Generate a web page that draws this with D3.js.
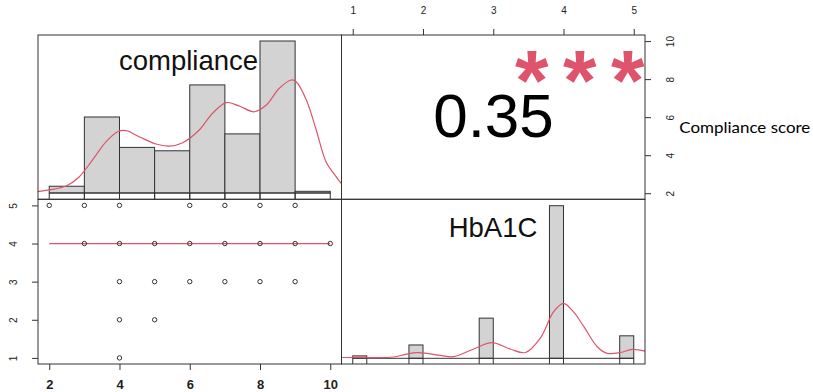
<!DOCTYPE html>
<html>
<head>
<meta charset="utf-8">
<script src="https://cdn.jsdelivr.net/npm/d3@7"></script>
<style>
	body { margin: 0; background: #fff; }
	svg { display: block; }
	text { font-family: "Liberation Sans", Arial, sans-serif; }
</style>
</head>
<body>
<div id="chart"></div>
<script>
// compliance histogram (diagonal, top left)
const complianceBreaks = [2, 3, 4, 5, 6, 7, 8, 9, 10]
const complianceCounts = [4, 45, 27, 25, 64, 35, 90, 1]
const complianceDensityX = [1.67, 2.0, 2.48, 2.85, 3.23, 3.62, 3.95, 4.19, 4.56, 5.04, 5.42, 5.8, 6.27, 6.65, 7.04, 7.41, 7.84, 8.18, 8.55, 8.89, 9.03, 9.32, 9.6, 9.89, 10.17, 10.31]
const complianceDensityY = [0.8, 1.8, 4.1, 9.5, 19.5, 30.4, 36.3, 36.9, 33.3, 29.0, 27.8, 29.8, 37.3, 47.2, 53.5, 51.5, 48.1, 52.1, 62, 66.9, 65.9, 55.1, 37.3, 18, 9.6, 5.7]

// HbA1C histogram (diagonal, bottom right)
const hba1cBinLo = [1.0, 1.8, 2.8, 3.8, 4.8]
const hba1cBinHi = [1.2, 2.0, 3.0, 4.0, 5.0]
const hba1cCounts = [1.5, 8.3, 25, 95, 14]
const hba1cDensityX = [0.84, 1.29, 1.58, 1.75, 1.91, 2.15, 2.43, 2.72, 2.98, 3.24, 3.46, 3.67, 3.86, 4.0, 4.14, 4.29, 4.48, 4.62, 4.81, 4.98, 5.16]
const hba1cDensityY = [0.5, 0.45, 0.8, 2.4, 3.5, 2.5, 1.0, 5.8, 9.7, 5.8, 3.6, 12.5, 29.0, 34.2, 29.0, 19.7, 7.2, 3.1, 3.6, 5.5, 4.5]

// scatter (bottom left): compliance vs HbA1C
const scatterCompliance = [2, 3, 4, 6, 7, 8, 9, 3, 4, 5, 6, 7, 8, 9, 10, 4, 5, 6, 7, 8, 9, 4, 5, 4]
const scatterHbA1C = [5, 5, 5, 5, 5, 5, 5, 4, 4, 4, 4, 4, 4, 4, 4, 3, 3, 3, 3, 3, 3, 2, 2, 1]
const fitCompliance = [2, 10]
const fitHbA1C = [4, 4]

// correlation (top right)
const corrValue = "0.35"
const corrStars = "***"

const complianceTicks = [2, 4, 6, 8, 10]
const complianceRightTicks = [2, 4, 6, 8, 10]
const hba1cTicks = [1, 2, 3, 4, 5]
const sideLabel = "Compliance score"

const width = 813
const height = 392
const panelLeft = 38
const panelMidX = 341.5
const panelRight = 645
const panelTop = 35
const panelMidY = 199.3
const panelBottom = 364
const red = "#DF536B"
const ink = "#333"
const intFormat = d3.format("d")

const xC = d3.scaleLinear().domain([1.68, 10.32]).range([panelLeft, panelMidX])
const xH = d3.scaleLinear().domain([0.84, 5.16]).range([panelMidX, panelRight])
const yC = d3.scaleLinear().domain([1.68, 10.32]).range([panelMidY, panelTop])
const yH = d3.scaleLinear().domain([0.84, 5.16]).range([panelBottom, panelMidY])
const yCCount = d3.scaleLinear().domain([0, 90]).range([193, 41])
const yHCount = d3.scaleLinear().domain([0, 95]).range([358.3, 205.7])

const svg = d3.select("#chart").append("svg").attr("width", width).attr("height", height)

// histogram helper: gray bars, baseline, edges running down to the panel bottom
const drawHist = (lo, hi, counts, x, y, edgeBottom) => {
	const g = svg.append("g")
	const base = y(0)
	g.selectAll("rect")
		.data(counts)
		.enter()
		.append("rect")
		.attr("x", (d, i) => x(lo[i]))
		.attr("y", d => y(d))
		.attr("width", (d, i) => x(hi[i]) - x(lo[i]))
		.attr("height", d => base - y(d))
		.attr("fill", "#d3d3d3")
		.attr("stroke", ink)
		.attr("stroke-width", 1)
	g.selectAll("line.edge")
		.data(counts.flatMap((d, i) => [lo[i], hi[i]]))
		.enter()
		.append("line")
		.attr("class", "edge")
		.attr("x1", d => x(d))
		.attr("x2", d => x(d))
		.attr("y1", base)
		.attr("y2", edgeBottom)
		.attr("stroke", ink)
	g.append("line")
		.attr("x1", x(lo[0]))
		.attr("x2", x(hi[hi.length - 1]))
		.attr("y1", base)
		.attr("y2", base)
		.attr("stroke", ink)
}

const densityLine = (x, y) =>
	d3
		.line()
		.curve(d3.curveCatmullRom)
		.x(d => x(d[0]))
		.y(d => y(d[1]))

// top left: compliance histogram
drawHist(complianceBreaks.slice(0, -1), complianceBreaks.slice(1), complianceCounts, xC, yCCount, panelMidY)
svg.append("path")
	.datum(complianceDensityX.map((d, i) => [d, complianceDensityY[i]]))
	.attr("fill", "none")
	.attr("stroke", red)
	.attr("stroke-width", 1.2)
	.attr("d", densityLine(xC, yCCount))
svg.append("text")
	.attr("x", 188.5)
	.attr("y", 70)
	.attr("text-anchor", "middle")
	.attr("font-size", 27.5)
	.attr("fill", "#111")
	.text("compliance")

// bottom right: HbA1C histogram
drawHist(hba1cBinLo, hba1cBinHi, hba1cCounts, xH, yHCount, panelBottom)
svg.append("path")
	.datum(hba1cDensityX.map((d, i) => [d, hba1cDensityY[i]]))
	.attr("fill", "none")
	.attr("stroke", red)
	.attr("stroke-width", 1.2)
	.attr("d", densityLine(xH, yHCount))
svg.append("text")
	.attr("x", 493)
	.attr("y", 236.7)
	.attr("text-anchor", "middle")
	.attr("font-size", 27.5)
	.attr("fill", "#111")
	.text("HbA1C")

// bottom left: scatter with fit
svg.append("path")
	.datum(fitCompliance.map((d, i) => [d, fitHbA1C[i]]))
	.attr("fill", "none")
	.attr("stroke", red)
	.attr("stroke-width", 1.2)
	.attr("d", d3.line().x(d => xC(d[0])).y(d => yH(d[1])))
svg.append("g")
	.selectAll("circle")
	.data(scatterCompliance.map((d, i) => [d, scatterHbA1C[i]]))
	.enter()
	.append("circle")
	.attr("cx", d => xC(d[0]))
	.attr("cy", d => yH(d[1]))
	.attr("r", 2.2)
	.attr("fill", "none")
	.attr("stroke", ink)
	.attr("stroke-width", 1)

// top right: correlation
svg.append("text")
	.attr("x", 493.5)
	.attr("y", 136.7)
	.attr("text-anchor", "middle")
	.attr("font-size", 62)
	.attr("fill", "#000")
	.text(corrValue)
svg.append("text")
	.attr("x", 515)
	.attr("y", 110)
	.attr("font-size", 86)
	.attr("font-weight", "bold")
	.attr("letter-spacing", 14.5)
	.attr("fill", red)
	.text(corrStars)

// panel frames
;[
	[panelLeft, panelTop, panelMidX, panelMidY],
	[panelMidX, panelTop, panelRight, panelMidY],
	[panelLeft, panelMidY, panelMidX, panelBottom],
	[panelMidX, panelMidY, panelRight, panelBottom]
].forEach(([x0, y0, x1, y1]) => {
	svg.append("rect")
		.attr("x", x0)
		.attr("y", y0)
		.attr("width", x1 - x0)
		.attr("height", y1 - y0)
		.attr("fill", "none")
		.attr("stroke", ink)
		.attr("stroke-width", 1)
})

// axes
const axisTop = svg
	.append("g")
	.attr("transform", `translate(0,${panelTop})`)
	.call(d3.axisTop(xH).tickValues(hba1cTicks).tickFormat(intFormat).tickSize(6).tickPadding(15))
axisTop.selectAll("text").attr("font-size", 10).attr("dy", 0)

const axisBottom = svg
	.append("g")
	.attr("transform", `translate(0,${panelBottom})`)
	.call(d3.axisBottom(xC).tickValues(complianceTicks).tickFormat(intFormat).tickSize(6))
axisBottom.selectAll("text").attr("font-size", 13).attr("font-weight", "bold").attr("y", 25.3).attr("dy", 0)

const axisLeft = svg
	.append("g")
	.attr("transform", `translate(${panelLeft},0)`)
	.call(d3.axisLeft(yH).tickValues(hba1cTicks).tickFormat(intFormat).tickSize(6))
axisLeft
	.selectAll("text")
	.attr("font-size", 10)
	.attr("x", 0)
	.attr("y", 0)
	.attr("dy", 0)
	.attr("text-anchor", "middle")
	.attr("transform", "translate(-21,0) rotate(-90)")

const axisRight = svg
	.append("g")
	.attr("transform", `translate(${panelRight},0)`)
	.call(d3.axisRight(yC).tickValues(complianceRightTicks).tickFormat(intFormat).tickSize(6))
axisRight
	.selectAll("text")
	.attr("font-size", 10)
	.attr("x", 0)
	.attr("y", 0)
	.attr("dy", 0)
	.attr("text-anchor", "middle")
	.attr("transform", "translate(28.5,0) rotate(-90)")

svg.selectAll(".domain").remove()
svg.selectAll(".tick line").attr("stroke", ink)
svg.selectAll(".tick text").attr("fill", "#222")

svg.append("text")
	.attr("x", 679.3)
	.attr("y", 133.3)
	.style("font-family", "Lato, 'Open Sans', sans-serif")
	.attr("font-size", 16)
	.attr("fill", "#000")
	.attr("textLength", 131)
	.attr("lengthAdjust", "spacingAndGlyphs")
	.text(sideLabel)
</script>
</body>
</html>
